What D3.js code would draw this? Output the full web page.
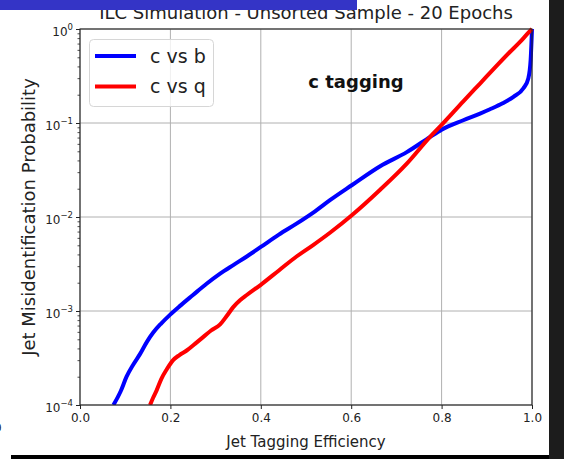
<!DOCTYPE html>
<html>
<head>
<meta charset="utf-8">
<script src="https://cdn.jsdelivr.net/npm/d3@7"></script>
<style>
  body { margin: 0; background: #fff; }
  svg { display: block; font-family: "DejaVu Sans", sans-serif; }
</style>
</head>
<body>
<svg id="chart" width="564" height="459"></svg>
<script>
// values (efficiency, misidentification probability)
var cbEff = [0.074, 0.09, 0.103, 0.118, 0.133, 0.148, 0.162, 0.18, 0.199, 0.22, 0.25, 0.28,
    0.31, 0.34, 0.369, 0.40, 0.44, 0.479, 0.52, 0.553, 0.602, 0.664, 0.723, 0.774, 0.80,
    0.848, 0.885, 0.907, 0.935, 0.959, 0.981, 0.992, 0.997, 1.0];
var cbProb = [1.0e-4, 1.4e-4, 2.0e-4, 2.7e-4, 3.5e-4, 4.7e-4, 5.9e-4, 7.4e-4, 9.1e-4, 1.12e-3,
    1.48e-3, 1.95e-3, 2.5e-3, 3.1e-3, 3.8e-3, 4.8e-3, 6.5e-3, 8.5e-3, 0.0115, 0.0151, 0.0219,
    0.0347, 0.049, 0.0708, 0.085, 0.107, 0.126, 0.14, 0.162, 0.19, 0.234, 0.30, 0.468, 1.0];

var cqEff = [0.155, 0.162, 0.17, 0.18, 0.192, 0.206, 0.22, 0.236, 0.255, 0.273, 0.29, 0.31,
    0.325, 0.339, 0.354, 0.369, 0.40, 0.44, 0.479, 0.515, 0.553, 0.602, 0.664, 0.723, 0.774,
    0.80, 0.848, 0.885, 0.922, 0.95, 0.973, 0.99, 1.0];
var cqProb = [1.0e-4, 1.2e-4, 1.45e-4, 1.9e-4, 2.4e-4, 3.0e-4, 3.4e-4, 3.8e-4, 4.5e-4, 5.3e-4,
    6.2e-4, 7.2e-4, 8.9e-4, 1.1e-3, 1.3e-3, 1.48e-3, 1.9e-3, 2.7e-3, 3.8e-3, 5.0e-3, 6.8e-3,
    0.0105, 0.0195, 0.037, 0.0708, 0.0955, 0.17, 0.263, 0.407, 0.562, 0.724, 0.891, 1.0];

var seriesNames = ['c vs b', 'c vs q'];
var seriesColors = ['#0000ff', '#ff0000'];
var xTicks = [0, 0.2, 0.4, 0.6, 0.8, 1.0];
var yTicks = [1e-4, 1e-3, 1e-2, 1e-1, 1];
var yTickExp = ['\u22124', '\u22123', '\u22122', '\u22121', '0'];

var svg = d3.select('#chart');
var W = 564, H = 459;
var pL = 80, pR = 532, pT = 29, pB = 405;

var x = d3.scaleLinear().domain([0, 1]).range([pL, pR]);
var y = d3.scaleLog().domain([1e-4, 1]).range([pB, pT]);

svg.append('rect').attr('width', W).attr('height', H).attr('fill', '#fff');

// grid
svg.append('g')
    .selectAll('line')
    .data(xTicks)
    .join('line')
    .attr('x1', function(d) { return x(d); })
    .attr('x2', function(d) { return x(d); })
    .attr('y1', pT).attr('y2', pB)
    .attr('stroke', '#b0b0b0').attr('stroke-width', 1);
svg.append('g')
    .selectAll('line')
    .data(yTicks)
    .join('line')
    .attr('y1', function(d) { return y(d); })
    .attr('y2', function(d) { return y(d); })
    .attr('x1', pL).attr('x2', pR)
    .attr('stroke', '#b0b0b0').attr('stroke-width', 1);

// curves
svg.append('clipPath').attr('id', 'plotclip')
    .append('rect')
    .attr('x', pL).attr('y', pT - 3)
    .attr('width', pR - pL + 2).attr('height', pB - pT + 3);

var line = d3.line()
    .x(function(d) { return x(d[0]); })
    .y(function(d) { return y(d[1]); })
    .curve(d3.curveMonotoneX);

var curves = [d3.zip(cbEff, cbProb), d3.zip(cqEff, cqProb)];
svg.append('g')
    .attr('clip-path', 'url(#plotclip)')
    .selectAll('path')
    .data(curves)
    .join('path')
    .attr('d', line)
    .attr('fill', 'none')
    .attr('stroke', function(d, i) { return seriesColors[i]; })
    .attr('stroke-width', 4)
    .attr('stroke-linejoin', 'round');

// spines
svg.append('rect')
    .attr('x', pL).attr('y', pT)
    .attr('width', pR - pL).attr('height', pB - pT)
    .attr('fill', 'none').attr('stroke', '#222').attr('stroke-width', 1.1);

// axes
var xAxis = svg.append('g')
    .attr('transform', 'translate(0,' + pB + ')')
    .call(d3.axisBottom(x).tickValues(xTicks).tickFormat(d3.format('.1f')).tickSize(4).tickPadding(4));
xAxis.select('.domain').remove();
xAxis.selectAll('text').attr('font-size', 12).attr('fill', '#222').attr('font-family', 'DejaVu Sans');
xAxis.selectAll('line').attr('stroke', '#222');

var minor = [];
[1e-4, 1e-3, 1e-2, 1e-1].forEach(function(dec) {
    for (var k = 2; k <= 9; k++) minor.push(dec * k);
});
var yMinor = svg.append('g')
    .attr('transform', 'translate(' + pL + ',0)')
    .call(d3.axisLeft(y).tickValues(minor).tickFormat('').tickSize(2.5));
yMinor.select('.domain').remove();
yMinor.selectAll('line').attr('stroke', '#222').attr('stroke-width', 0.8);

var yAxis = svg.append('g')
    .attr('transform', 'translate(' + pL + ',0)')
    .call(d3.axisLeft(y).tickValues(yTicks).tickFormat('').tickSize(4).tickPadding(4));
yAxis.select('.domain').remove();
yAxis.selectAll('line').attr('stroke', '#222');
yAxis.selectAll('.tick').each(function(d) {
    var t = d3.select(this).select('text')
        .attr('font-size', 12).attr('fill', '#222')
        .attr('font-family', 'DejaVu Sans')
        .attr('x', -7).attr('dy', '0.55em')
        .attr('text-anchor', 'end');
    t.append('tspan').text('10');
    t.append('tspan').attr('font-size', 8.5).attr('dy', '-0.75em').text(yTickExp[yTicks.indexOf(d)]);
});

// labels
svg.append('text')
    .attr('x', (pL + pR) / 2).attr('y', 447)
    .attr('text-anchor', 'middle').attr('font-size', 15).attr('fill', '#222')
    .text('Jet Tagging Efficiency');
svg.append('text')
    .attr('transform', 'translate(35,217)rotate(-90)')
    .attr('text-anchor', 'middle').attr('font-size', 18).attr('fill', '#222')
    .text('Jet Misidentification Probability');
svg.append('text')
    .attr('x', (pL + pR) / 2).attr('y', 19)
    .attr('text-anchor', 'middle').attr('font-size', 18).attr('fill', '#222')
    .text('ILC Simulation - Unsorted Sample - 20 Epochs');
svg.append('text')
    .attr('x', 356).attr('y', 88)
    .attr('text-anchor', 'middle').attr('font-size', 18).attr('font-weight', 'bold')
    .attr('fill', '#111')
    .text('c tagging');

// legend
var lg = svg.append('g');
lg.append('rect')
    .attr('x', 89.5).attr('y', 39.5).attr('width', 124).attr('height', 67).attr('rx', 4)
    .attr('fill', '#fff').attr('fill-opacity', 0.8)
    .attr('stroke', '#d6d6d6').attr('stroke-width', 1);
var items = lg.selectAll('g.item')
    .data(seriesNames)
    .join('g')
    .attr('class', 'item')
    .attr('transform', function(d, i) { return 'translate(0,' + (56 + i * 30.5) + ')'; });
items.append('line')
    .attr('x1', 95).attr('x2', 136)
    .attr('stroke', function(d, i) { return seriesColors[i]; })
    .attr('stroke-width', 4);
items.append('text')
    .attr('x', 150).attr('dy', '0.35em')
    .attr('font-size', 19).attr('fill', '#222')
    .text(function(d) { return d; });

// screenshot leftovers around the figure
svg.append('rect').attr('x', 0).attr('y', 0).attr('width', 357).attr('height', 10).attr('fill', '#3434c6');
svg.append('rect').attr('x', 549).attr('y', 0).attr('width', 15).attr('height', H).attr('fill', '#1c1c1c');
svg.append('rect').attr('x', 11).attr('y', 455).attr('width', 538).attr('height', 4).attr('fill', '#000');
svg.append('text').attr('x', -6).attr('y', 432).attr('font-size', 12).attr('fill', '#222').text('0');
</script>
</body>
</html>
